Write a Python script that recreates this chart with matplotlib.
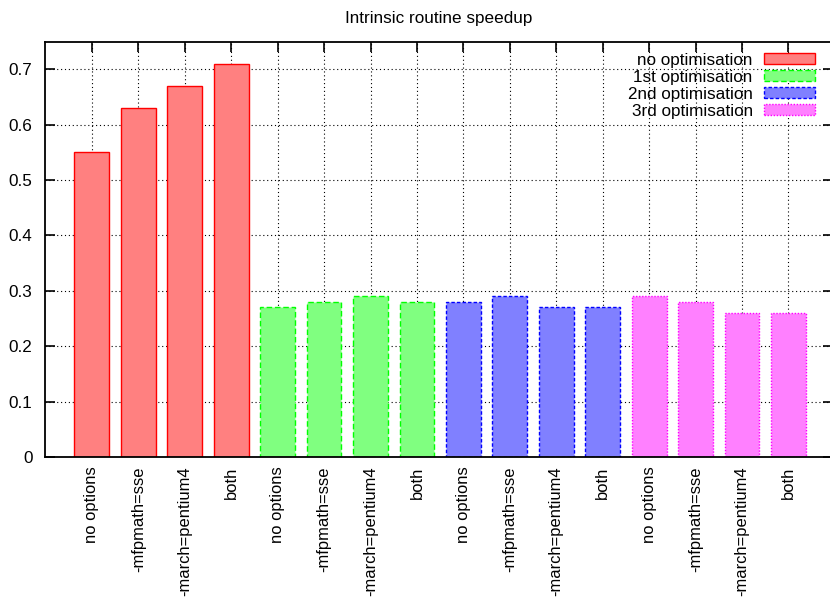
import numpy as np
import matplotlib
matplotlib.use("Agg")
import matplotlib.pyplot as plt

plt.rcParams['font.family'] = ['Liberation Sans', 'DejaVu Sans']

# options tried for each optimisation step
options = ["no options", "-mfpmath=sse", "-march=pentium4", "both"]
series = ["no optimisation", "1st optimisation", "2nd optimisation", "3rd optimisation"]
no_opt = [0.55, 0.63, 0.67, 0.71]
opt1 = [0.27, 0.28, 0.29, 0.28]
opt2 = [0.28, 0.29, 0.27, 0.27]
opt3 = [0.29, 0.28, 0.26, 0.26]
y_ticks = [0, 0.1, 0.2, 0.3, 0.4, 0.5, 0.6, 0.7]

fills = ['#ff8080', '#80ff80', '#8080ff', '#ff80ff']
edges = ['#ff0000', '#00ff00', '#0000ff', '#ff00ff']
styles = ['-', (0, (4, 2)), (0, (2.5, 1.5)), (0, (1, 1.2))]

fs = 12.3
fig = plt.figure(figsize=(8.3, 6.03), dpi=100)
# right border sits just past the picture edge, as in the original
ax = fig.add_axes([45 / 830, 1 - 457 / 603, 788 / 830, (457 - 41.5) / 603])

labels = []
pos = 0
for i, vals in enumerate([no_opt, opt1, opt2, opt3]):
    x = np.arange(pos, pos + len(vals))
    ax.bar(x, vals, width=0.75, color=fills[i], edgecolor=edges[i],
           linewidth=1.0, linestyle=styles[i], label=series[i])
    labels += options
    pos += len(vals)

ax.set_xlim(-1.01, 15.96)
ax.set_ylim(0, 0.75)
ax.set_xticks(np.arange(len(labels)))
ax.set_xticklabels(labels, rotation=90, fontsize=11.9, va='top', ha='center')
ax.set_yticks(y_ticks)
ax.set_yticklabels(['0'] + ['%.1f' % v for v in y_ticks[1:]], fontsize=fs)
ax.tick_params(direction='in', length=7, width=1.2, top=True, right=True,
               labelright=False, labeltop=False, pad=9)
ax.tick_params(axis='x', pad=7)
ax.set_axisbelow(True)
ax.grid(True, color='black', linestyle=(0, (1, 2.5)), linewidth=0.8)
for s in ax.spines.values():
    s.set_linewidth(1.3)

ax.set_title("Intrinsic routine speedup", fontsize=fs, pad=13)

leg = ax.legend(loc='upper right', bbox_to_anchor=(1 - 18 / 788, 1 - 11 / 415.5),
                frameon=False, markerfirst=False, fontsize=fs, borderpad=0,
                borderaxespad=0, handlelength=3.0, handleheight=0.65,
                handletextpad=0.65, labelspacing=0.12)

fig.savefig("out.png", dpi=100)
